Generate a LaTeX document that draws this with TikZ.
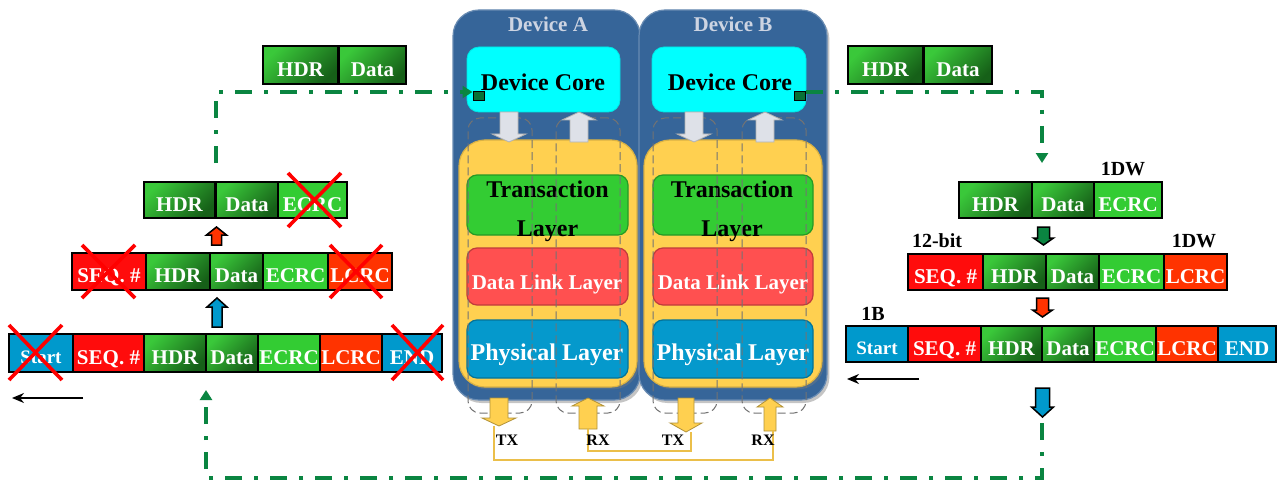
\documentclass[tikz,border=0pt]{standalone}
\usepackage{fontspec}
\setmainfont{Liberation Serif}
\usetikzlibrary{arrows.meta,shadows}

\definecolor{devblue}{RGB}{54,101,153}
\definecolor{layergold}{RGB}{255,208,80}
\definecolor{corecyan}{RGB}{0,255,255}
\definecolor{tlgreen}{RGB}{51,204,51}
\definecolor{dlred}{RGB}{255,80,80}
\definecolor{phyblue}{RGB}{5,153,204}
\definecolor{flowgreen}{RGB}{10,133,65}
\definecolor{seqred}{RGB}{255,12,12}
\definecolor{lcrcorange}{RGB}{255,51,0}
\definecolor{framblue}{RGB}{0,153,204}
\definecolor{hdrlight}{RGB}{58,200,58}
\definecolor{hdrdark}{RGB}{22,96,24}
\definecolor{titlegray}{RGB}{205,212,226}
\definecolor{arrowgray}{RGB}{222,225,232}

\tikzset{
  devbox/.style={fill=devblue, draw=devblue!75!white, line width=0.6pt, rounded corners=13pt, inner sep=0pt,
    drop shadow={shadow xshift=1.2pt, shadow yshift=-1.5pt, opacity=0.45}},
  goldbox/.style={fill=layergold, draw=layergold!85!black, line width=0.6pt, rounded corners=13pt, inner sep=0pt,
    drop shadow={shadow xshift=1pt, shadow yshift=-1.2pt, opacity=0.35}},
  corebox/.style={fill=corecyan, draw=corecyan!90!black, line width=0.4pt, rounded corners=6pt, inner sep=0pt},
  layerbox/.style={fill=#1, draw=#1!75!black, line width=0.6pt, rounded corners=5pt, inner sep=0pt},
  pathbox/.style={draw=black!55, dash pattern=on 4pt off 2pt, line width=0.5pt, rounded corners=6pt, inner sep=0pt},
  port/.style={fill=flowgreen!85!black, draw=black, line width=0.5pt, minimum width=5.5pt, minimum height=4.5pt, inner sep=0pt},
  devtitle/.style={font=\bfseries\fontsize{10.5}{12}\selectfont, text=titlegray, text height=7pt, text depth=0pt, inner sep=0pt},
  corelbl/.style={font=\bfseries\fontsize{12}{14}\selectfont, text=black, text height=7.9pt, text depth=0pt, inner sep=0pt},
  tllbl/.style={font=\bfseries\fontsize{12}{14}\selectfont, text=black, text height=7.9pt, text depth=0pt, inner sep=0pt},
  dllbl/.style={font=\bfseries\fontsize{10.5}{12}\selectfont, text=white, text height=7pt, text depth=0pt, inner sep=0pt},
  phylbl/.style={font=\bfseries\fontsize{12}{14}\selectfont, text=white, text height=7.9pt, text depth=0pt, inner sep=0pt},
  portlbl/.style={font=\bfseries\fontsize{8}{9}\selectfont, text=black, text height=5.3pt, text depth=0pt, inner sep=0pt},
  sizelbl/.style={font=\bfseries\fontsize{10}{12}\selectfont, text=black, text height=6.6pt, text depth=0pt, inner sep=0pt},
  cellbase/.style={draw=black, line width=0.75pt, inner sep=0pt, text=white, text height=11pt, text depth=0pt,
    font=\bfseries\fontsize{10.5}{12}\selectfont},
  gradcell/.style={cellbase, top color=hdrlight, bottom color=hdrdark, shading angle=45},
  ecrccell/.style={cellbase, fill=tlgreen},
  seqcell/.style={cellbase, fill=seqred},
  lcrccell/.style={cellbase, fill=lcrcorange},
  framecell/.style={cellbase, fill=framblue},
  startcell/.style={framecell, text height=10.5pt, font=\bfseries\fontsize{9.5}{11}\selectfont},
  xmark/.style={draw=red, line width=1.8pt},
  flow/.style={draw=flowgreen, line width=2pt, dash pattern=on 8.5pt off 6pt on 2pt off 6pt,
    -{Triangle[length=5pt,width=6pt]}},
  thinarrow/.style={draw=black, line width=0.8pt, -{Stealth[length=6pt,width=5pt]}},
  wire/.style={draw=layergold!92!black, line width=1pt},
  grayarr/.style={fill=arrowgray, draw=black!30, line width=0.4pt},
  goldarr/.style={fill=layergold, draw=layergold!70!black, line width=0.4pt},
  blkarr/.style={fill=#1, draw=black, line width=0.75pt},
}

% block arrow: style, x, tail y, tip y, shaft half width, head half width, head length
\newcommand{\blkarrow}[7]{%
  \pgfmathsetmacro{\blkbase}{#4+((#3>#4) ? 1 : -1)*#7}%
  \draw[#1] ({#2-#5},#3) -- ({#2-#5},\blkbase) -- ({#2-#6},\blkbase) -- (#2,#4)
    -- ({#2+#6},\blkbase) -- ({#2+#5},\blkbase) -- ({#2+#5},#3) -- cycle;}

% packet field: name, x1, x2, y1, y2, style, text
\newcommand{\pktcell}[7]{%
  \node[#6, minimum width={(#3-#2)*0.5pt}, minimum height={(#5-#4)*0.5pt}] (#1)
    at ({(#2+#3)/2},{(#4+#5)/2}) {#7};}

\begin{document}
\begin{tikzpicture}[x=0.5pt, y=-0.5pt]
\useasboundingbox (0,0) rectangle (1279,481);
\fill[white] (0,0) rectangle (1279,481);

% ---- the two devices ----
\node[devbox, minimum width=93.5pt, minimum height=195pt] (devA) at (546.5,205) {};
\node[devbox, minimum width=94pt, minimum height=195pt] (devB) at (733,205) {};
\node[devtitle] (titA) at (548,25) {Device A};
\node[devtitle] (titB) at (733,25) {Device B};

\node[corebox, minimum width=76.5pt, minimum height=32.5pt] (coreA) at (543.5,79.5) {};
\node[corebox, minimum width=77pt, minimum height=32.5pt] (coreB) at (729,79.5) {};
\node[corelbl] (coreAt) at (543,83) {Device Core};
\node[corelbl] (coreBt) at (730,83) {Device Core};
\node[port] (sqA) at (478.5,96.5) {};
\node[port] (sqB) at (800,96.5) {};

\node[goldbox, minimum width=89pt, minimum height=123.5pt] (stackA) at (548,263.5) {};
\node[goldbox, minimum width=89pt, minimum height=123.5pt] (stackB) at (733,263.5) {};

\node[layerbox=tlgreen, minimum width=80.5pt, minimum height=30pt] (tlA) at (547.5,205) {};
\node[layerbox=dlred, minimum width=80.5pt, minimum height=28.5pt] (dlA) at (547.5,276.5) {};
\node[layerbox=phyblue, minimum width=80.5pt, minimum height=29pt] (phA) at (547.5,349) {};
\node[layerbox=tlgreen, minimum width=80pt, minimum height=30pt] (tlB) at (733,205) {};
\node[layerbox=dlred, minimum width=80pt, minimum height=28.5pt] (dlB) at (733,276.5) {};
\node[layerbox=phyblue, minimum width=80pt, minimum height=29pt] (phB) at (733,349) {};

\node[tllbl] (tlA1) at (547.5,190) {Transaction};
\node[tllbl] (tlA2) at (547.5,228.5) {Layer};
\node[tllbl] (tlB1) at (732,190) {Transaction};
\node[tllbl] (tlB2) at (732,228.5) {Layer};
\node[dllbl] (dlAt) at (547,282) {Data Link Layer};
\node[dllbl] (dlBt) at (733,282) {Data Link Layer};
\node[phylbl] (phAt) at (547,353) {Physical Layer};
\node[phylbl] (phBt) at (733,353) {Physical Layer};

% transmit / receive paths through the stacks
\node[pathbox, minimum width=32pt, minimum height=147.5pt] (txA) at (500,265.5) {};
\node[pathbox, minimum width=32pt, minimum height=147.5pt] (rxA) at (588,265.5) {};
\node[pathbox, minimum width=32pt, minimum height=147.5pt] (txB) at (685,265.5) {};
\node[pathbox, minimum width=32pt, minimum height=147.5pt] (rxB) at (774,265.5) {};

\blkarrow{grayarr}{509}{112}{142}{9}{17}{8}
\blkarrow{grayarr}{579}{142}{112}{9}{17}{8}
\blkarrow{grayarr}{694}{112}{142}{9}{17}{8}
\blkarrow{grayarr}{765}{142}{112}{9}{17}{8}

\blkarrow{goldarr}{499}{398}{426}{9}{17}{8}
\blkarrow{goldarr}{588}{429}{398}{9}{16}{8}
\blkarrow{goldarr}{686}{398}{432}{8}{16}{9}
\blkarrow{goldarr}{770}{431}{398}{6}{13}{9}

% link wiring between the ports
\coordinate (txAw) at (494,426);
\coordinate (rxBw) at (773,431);
\coordinate (rxAw) at (588,429);
\coordinate (txBw) at (691,432);
\draw[wire] (txAw) |- (773,460) -- (rxBw);
\draw[wire] (rxAw) |- (691,451) -- (txBw);

\node[portlbl] (lTXA) at (507,440) {TX};
\node[portlbl] (lRXA) at (598,440) {RX};
\node[portlbl] (lTXB) at (673,440) {TX};
\node[portlbl] (lRXB) at (763,440) {RX};

% ---- packets at the top ----
\pktcell{tlH}{263}{338}{46}{84}{gradcell}{HDR}
\pktcell{tlD}{339}{406}{46}{84}{gradcell}{Data}
\pktcell{trH}{848}{923}{46}{84}{gradcell}{HDR}
\pktcell{trD}{924}{992}{46}{84}{gradcell}{Data}

% ---- receive side (left) ----
\pktcell{l1H}{144}{215}{182}{218}{gradcell}{HDR}
\pktcell{l1D}{216}{278}{182}{218}{gradcell}{Data}
\pktcell{l1E}{278}{347}{182}{218}{ecrccell}{ECRC}

\pktcell{l2S}{72}{146}{253}{290}{seqcell}{SEQ. \#}
\pktcell{l2H}{146}{210}{253}{290}{gradcell}{HDR}
\pktcell{l2D}{210}{263}{253}{290}{gradcell}{Data}
\pktcell{l2E}{263}{328}{253}{290}{ecrccell}{ECRC}
\pktcell{l2L}{328}{392}{253}{290}{lcrccell}{LCRC}

\pktcell{l3B}{9}{73}{334}{372}{startcell}{Start}
\pktcell{l3S}{73}{144}{334}{372}{seqcell}{SEQ. \#}
\pktcell{l3H}{144}{206}{334}{372}{gradcell}{HDR}
\pktcell{l3D}{206}{258}{334}{372}{gradcell}{Data}
\pktcell{l3E}{258}{320}{334}{372}{ecrccell}{ECRC}
\pktcell{l3L}{320}{382}{334}{372}{lcrccell}{LCRC}
\pktcell{l3N}{382}{442}{334}{372}{framecell}{END}

\draw[xmark] (288,173) -- (341,227) (288,227) -- (341,173);
\draw[xmark] (82,245) -- (135,298) (82,298) -- (135,245);
\draw[xmark] (330,245) -- (382,298) (330,298) -- (382,245);
\draw[xmark] (9,325) -- (62,380) (9,380) -- (62,325);
\draw[xmark] (392,325) -- (443,380) (392,380) -- (443,325);

\blkarrow{blkarr=lcrcorange}{216.5}{245}{227}{5}{10}{8}
\blkarrow{blkarr=framblue}{217}{327}{298}{5}{10}{9}

\coordinate (lwA) at (83,398);
\coordinate (lwB) at (12,398);
\draw[thinarrow] (lwA) -- (lwB);

% ---- transmit side (right) ----
\pktcell{r1H}{959}{1032}{182}{218}{gradcell}{HDR}
\pktcell{r1D}{1032}{1094}{182}{218}{gradcell}{Data}
\pktcell{r1E}{1094}{1162}{182}{218}{ecrccell}{ECRC}

\pktcell{r2S}{908}{983}{254}{290}{seqcell}{SEQ. \#}
\pktcell{r2H}{983}{1046}{254}{290}{gradcell}{HDR}
\pktcell{r2D}{1046}{1099}{254}{290}{gradcell}{Data}
\pktcell{r2E}{1099}{1164}{254}{290}{ecrccell}{ECRC}
\pktcell{r2L}{1164}{1227}{254}{290}{lcrccell}{LCRC}

\pktcell{r3B}{846}{908}{326}{362}{startcell}{Start}
\pktcell{r3S}{908}{981}{326}{362}{seqcell}{SEQ. \#}
\pktcell{r3H}{981}{1042}{326}{362}{gradcell}{HDR}
\pktcell{r3D}{1042}{1094}{326}{362}{gradcell}{Data}
\pktcell{r3E}{1094}{1156}{326}{362}{ecrccell}{ECRC}
\pktcell{r3L}{1156}{1218}{326}{362}{lcrccell}{LCRC}
\pktcell{r3N}{1218}{1276}{326}{362}{framecell}{END}

\node[sizelbl] (s1) at (1123,169) {1DW};
\node[sizelbl] (s2) at (937,241) {12-bit};
\node[sizelbl] (s3) at (1194,241) {1DW};
\node[sizelbl] (s4) at (873,314) {1B};

\blkarrow{blkarr=flowgreen}{1043.5}{227}{245}{6}{10}{7}
\blkarrow{blkarr=lcrcorange}{1042.5}{298}{317}{6}{10}{7}
\blkarrow{blkarr=framblue}{1042.5}{388}{417}{7}{11}{10}

\coordinate (rwA) at (919,379);
\coordinate (rwB) at (847,379);
\draw[thinarrow] (rwA) -- (rwB);

% ---- packet flow ----
\coordinate (ltop) at (216,163);
\coordinate (lcorner) at (216,92);
\draw[flow] (ltop) -- (lcorner) -- (sqA.west |- lcorner);

\coordinate (rcorner) at (1042,92);
\coordinate (rtop) at (1042,163);
\draw[flow] (sqB.east |- rcorner) -- (rcorner) -- (rtop);

\coordinate (bstart) at (1042,423);
\coordinate (bc1) at (1042,478);
\coordinate (bc2) at (206,478);
\coordinate (bend) at (206,390);
\draw[flow] (bstart) -- (bc1) -- (bc2) -- (bend);
\end{tikzpicture}
\end{document}
